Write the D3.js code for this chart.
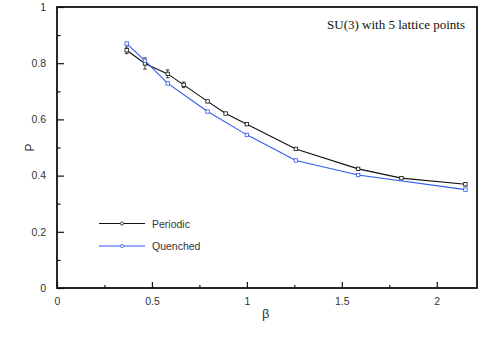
<!DOCTYPE html>
<html>
<head>
<meta charset="utf-8">
<script src="https://cdn.jsdelivr.net/npm/d3@7"></script>
<style>
  body { margin: 0; background: #fff; }
  svg { display: block; }
</style>
</head>
<body>
<div id="figure"><svg></svg></div>
<script>
// Data
var betaPeriodic = [0.367, 0.463, 0.583, 0.667, 0.793, 0.888, 1.0, 1.258, 1.586, 1.814, 2.151];
var pPeriodic    = [0.846, 0.799, 0.762, 0.723, 0.664, 0.621, 0.583, 0.495, 0.424, 0.391, 0.369];
var errPeriodic  = [0.012, 0.020, 0.014, 0.010, 0.003, 0.003, 0.003, 0.003, 0.003, 0.003, 0.006];
var betaQuenched = [0.367, 0.463, 0.583, 0.793, 1.0, 1.258, 1.586, 2.151];
var pQuenched    = [0.870, 0.809, 0.728, 0.628, 0.545, 0.454, 0.402, 0.350];
var errQuenched  = [0.004, 0.004, 0.004, 0.003, 0.003, 0.003, 0.003, 0.003];
var xTicks = [0, 0.5, 1, 1.5, 2];
var yTicks = [0, 0.2, 0.4, 0.6, 0.8, 1];
var seriesNames = ["Periodic", "Quenched"];
var seriesColors = ["#111111", "#3358f0"];

var width = 485, height = 346;
// plot frame (note: "top" is taken by window.top)
var plotLeft = 57, plotRight = 477, plotTop = 7, plotBottom = 288;

var svg = d3.select("#figure").select("svg")
    .attr("width", width).attr("height", height);

var x = d3.scaleLinear().domain([0, 2.212]).range([plotLeft, plotRight]);
var y = d3.scaleLinear().domain([0, 1]).range([plotBottom, plotTop]);

// ticks (inward), major and minor
var xMinor = d3.range(0.25, 2.2, 0.5);
var yMinor = d3.range(0.1, 1, 0.2);

svg.append("g").attr("transform", "translate(0," + plotBottom + ")")
    .call(d3.axisBottom(x).tickValues(xTicks).tickSizeInner(-6).tickSizeOuter(0)
      .tickPadding(10).tickFormat(d3.format("")));
svg.append("g").attr("transform", "translate(" + plotLeft + ",0)")
    .call(d3.axisLeft(y).tickValues(yTicks).tickSizeInner(-7).tickSizeOuter(0)
      .tickPadding(11).tickFormat(d3.format("")));
svg.append("g").attr("transform", "translate(0," + plotBottom + ")")
    .call(d3.axisBottom(x).tickValues(xMinor).tickSize(-3).tickFormat(""));
svg.append("g").attr("transform", "translate(" + plotLeft + ",0)")
    .call(d3.axisLeft(y).tickValues(yMinor).tickSize(-3.5).tickFormat(""));

svg.selectAll(".domain").remove();
svg.selectAll(".tick line").attr("stroke", "#111").attr("stroke-width", 1.2);
svg.selectAll(".tick text")
    .attr("font-family", "Liberation Sans, Arial, sans-serif")
    .attr("font-size", 10.5).attr("fill", "#333");

// frame
svg.append("rect")
    .attr("x", plotLeft).attr("y", plotTop)
    .attr("width", plotRight - plotLeft).attr("height", plotBottom - plotTop)
    .attr("fill", "none").attr("stroke", "#111").attr("stroke-width", 1.8);

// axis titles
svg.append("text").attr("x", x(1.1)).attr("y", 318)
    .attr("text-anchor", "middle")
    .attr("font-family", "Liberation Sans, Arial, sans-serif")
    .attr("font-size", 13).attr("fill", "#333").text("β");
svg.append("text")
    .attr("transform", "translate(34," + y(0.5) + ") rotate(-90)")
    .attr("text-anchor", "middle")
    .attr("font-family", "Liberation Sans, Arial, sans-serif")
    .attr("font-size", 12).attr("fill", "#333").text("P");

// title inside plot
svg.append("text").attr("x", 465).attr("y", 29)
    .attr("text-anchor", "end")
    .attr("font-family", "Liberation Serif, Times New Roman, serif")
    .attr("font-size", 13).attr("fill", "#111").text("SU(3) with 5 lattice points");

function drawSeries(xs, ys, es, color) {
  var pts = xs.map(function (d, i) { return {b: d, p: ys[i], e: es[i]}; });
  var line = d3.line().x(function (d) { return x(d.b); }).y(function (d) { return y(d.p); });
  var g = svg.append("g");
  g.append("path").datum(pts).attr("d", line)
    .attr("fill", "none").attr("stroke", color).attr("stroke-width", 1.1);
  // error bars
  g.selectAll(".err").data(pts).enter().append("path")
    .attr("d", function (d) {
      var cx = x(d.b), y1 = y(d.p + d.e), y2 = y(d.p - d.e);
      return "M" + cx + "," + y1 + "V" + y2 +
        "M" + (cx - 1.8) + "," + y1 + "H" + (cx + 1.8) +
        "M" + (cx - 1.8) + "," + y2 + "H" + (cx + 1.8);
    })
    .attr("fill", "none").attr("stroke", color).attr("stroke-width", 0.8);
  g.selectAll("rect").data(pts).enter().append("rect")
    .attr("x", function (d) { return x(d.b) - 1.7; })
    .attr("y", function (d) { return y(d.p) - 1.7; })
    .attr("width", 3.4).attr("height", 3.4)
    .attr("fill", "#fff").attr("stroke", color).attr("stroke-width", 0.8);
}

drawSeries(betaPeriodic, pPeriodic, errPeriodic, seriesColors[0]);
drawSeries(betaQuenched, pQuenched, errQuenched, seriesColors[1]);

// legend
var legend = svg.append("g").selectAll("g").data(seriesNames).enter().append("g")
    .attr("transform", function (d, i) { return "translate(0," + (223.5 + i * 22.5) + ")"; });
legend.append("line").attr("x1", 99).attr("x2", 145).attr("y1", 0).attr("y2", 0)
    .attr("stroke", function (d, i) { return seriesColors[i]; }).attr("stroke-width", 1.1);
legend.append("circle").attr("cx", 122).attr("cy", 0).attr("r", 1.6)
    .attr("fill", "#fff").attr("stroke", function (d, i) { return seriesColors[i]; })
    .attr("stroke-width", 0.8);
legend.append("text").attr("x", 152).attr("y", 4)
    .attr("font-family", "Liberation Sans, Arial, sans-serif")
    .attr("font-size", 10.5).attr("fill", "#333")
    .text(function (d) { return d; });
</script>
</body>
</html>
